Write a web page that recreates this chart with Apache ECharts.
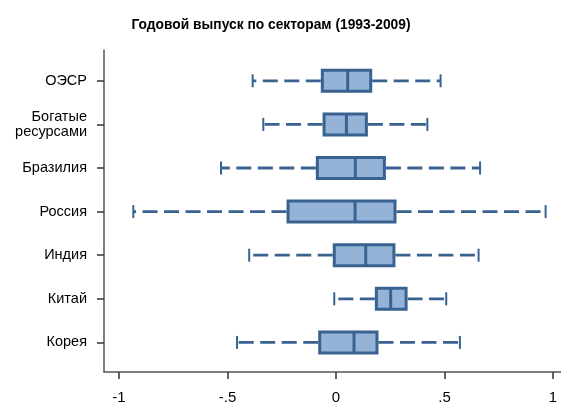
<!DOCTYPE html>
<html><head><meta charset="utf-8">
<script src="https://cdn.jsdelivr.net/npm/echarts@6/dist/echarts.min.js"></script>
<style>html,body{margin:0;padding:0;background:#fff}#c{width:561px;height:405px}</style>
</head><body><div id="c"></div>
<script>
const categories = ['ОЭСР', 'Богатые\nресурсами', 'Бразилия', 'Россия', 'Индия', 'Китай', 'Корея'];
const whiskerLow  = [-0.384, -0.335, -0.530, -0.934, -0.400, -0.008, -0.456];
const q1          = [-0.063, -0.055, -0.086, -0.221, -0.008,  0.186, -0.075];
const median      = [ 0.054,  0.048,  0.089,  0.088,  0.137,  0.252,  0.083];
const q3          = [ 0.160,  0.140,  0.223,  0.272,  0.267,  0.323,  0.189];
const whiskerHigh = [ 0.482,  0.421,  0.664,  0.966,  0.657,  0.508,  0.571];
const xTicks = [-1, -0.5, 0, 0.5, 1];
const xTickLabels = ['-1', '-.5', '0', '.5', '1'];

const data = categories.map((c, i) => [i, whiskerLow[i], q1[i], median[i], q3[i], whiskerHigh[i]]);

const edge = '#38628f', fill = '#95b3d7';
const chart = echarts.init(document.getElementById('c'), null, {renderer: 'canvas'});
chart.setOption({
  animation: false,
  title: {
    text: 'Годовой выпуск по секторам (1993-2009)',
    left: 266, top: 13, textAlign: 'center',
    textStyle: {fontFamily: 'Liberation Sans', fontWeight: 'bold', fontSize: 13.8, color: '#000'}
  },
  grid: {left: 104, right: 0, top: 50, bottom: 31},
  xAxis: {
    type: 'value', min: -1.0691, max: 1.0369,
    axisLine: {show: true, onZero: false, lineStyle: {color: '#555', width: 1.5}},
    axisTick: {show: true, length: 7, customValues: xTicks, lineStyle: {color: '#333', width: 1.5}},
    axisLabel: {customValues: xTicks, margin: 18, fontSize: 15, color: '#000', fontFamily: 'Liberation Sans',
      formatter: v => xTickLabels[xTicks.findIndex(t => Math.abs(t - v) < 1e-6)] ?? ''},
    splitLine: {show: false}
  },
  yAxis: {
    type: 'value', inverse: true, min: -0.7066, max: 6.679,
    axisLine: {show: true, onZero: false, lineStyle: {color: '#555', width: 1.5}},
    axisTick: {show: true, length: 7, customValues: categories.map((c, i) => i), lineStyle: {color: '#333', width: 1.5}},
    axisLabel: {customValues: categories.map((c, i) => i), margin: 17, fontSize: 14.5, lineHeight: 14.5, color: '#000',
      fontFamily: 'Liberation Sans', align: 'right',
      formatter: v => categories[Math.round(v)]},
    splitLine: {show: false}
  },
  series: [{
    type: 'custom',
    data: data,
    encode: {y: 0, x: [1, 2, 3, 4, 5]},
    renderItem: function (params, api) {
      const i = api.value(0);
      const pLo = api.coord([api.value(1), i]);
      const p1 = api.coord([api.value(2), i]);
      const pm = api.coord([api.value(3), i]);
      const p3 = api.coord([api.value(4), i]);
      const pHi = api.coord([api.value(5), i]);
      const y = p1[1];
      const bh = 21, ch = 13;
      const dash = {stroke: edge, lineWidth: 2.8, lineDash: [15, 6.5]};
      return {
        type: 'group',
        children: [
          {type: 'line', shape: {x1: p1[0] - 1.5, y1: y, x2: pLo[0], y2: y}, style: dash},
          {type: 'line', shape: {x1: p3[0] + 1.5, y1: y, x2: pHi[0], y2: y}, style: dash},
          {type: 'line', shape: {x1: pLo[0], y1: y - ch / 2, x2: pLo[0], y2: y + ch / 2}, style: {stroke: edge, lineWidth: 2}},
          {type: 'line', shape: {x1: pHi[0], y1: y - ch / 2, x2: pHi[0], y2: y + ch / 2}, style: {stroke: edge, lineWidth: 2}},
          {type: 'rect', shape: {x: p1[0], y: y - bh / 2, width: p3[0] - p1[0], height: bh}, style: {fill: fill, stroke: edge, lineWidth: 3}},
          {type: 'line', shape: {x1: pm[0], y1: y - bh / 2, x2: pm[0], y2: y + bh / 2}, style: {stroke: edge, lineWidth: 3}}
        ]
      };
    }
  }]
});
</script></body></html>
